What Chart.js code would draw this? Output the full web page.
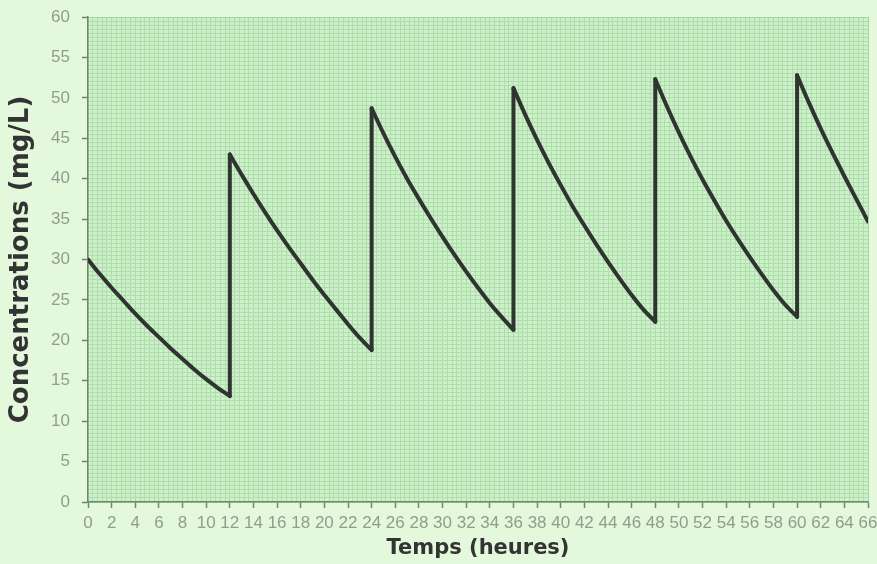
<!DOCTYPE html>
<html>
<head>
<meta charset="utf-8">
<script src="https://cdn.jsdelivr.net/npm/chart.js@4.4.0/dist/chart.umd.min.js"></script>
<style>
  html, body { margin: 0; padding: 0; background: #e4f8dc; }
  #wrap { width: 877px; height: 564px; position: relative; }
</style>
</head>
<body>
<div id="wrap"><canvas id="c" width="877" height="564"></canvas></div>
<script>
// Time (hours) — doses at 0, 12, 24, 36, 48, 60 (repeated time = vertical jump)
const hours = [
  0,1,2,3,4,5,6,7,8,9,10,11,12,
  12,13,14,15,16,17,18,19,20,21,22,23,24,
  24,25,26,27,28,29,30,31,32,33,34,35,36,
  36,37,38,39,40,41,42,43,44,45,46,47,48,
  48,49,50,51,52,53,54,55,56,57,58,59,60,
  60,61,62,63,64,65,66
];
// Concentration (mg/L)
const concentrations = [
  30.0,28.2,26.5,24.9,23.3,21.8,20.4,19.0,17.7,16.4,15.2,14.1,13.1,
  43.0,40.5,38.1,35.8,33.6,31.5,29.5,27.5,25.6,23.8,22.0,20.3,18.8,
  48.7,45.6,42.7,40.0,37.5,35.1,32.8,30.6,28.5,26.5,24.6,22.9,21.3,
  51.2,47.9,44.8,41.9,39.2,36.6,34.2,31.9,29.7,27.6,25.6,23.8,22.3,
  52.3,48.9,45.7,42.7,39.9,37.3,34.8,32.5,30.3,28.2,26.2,24.4,22.9,
  52.8,49.4,46.2,43.2,40.3,37.5,34.7
];
const xTickStep = 2;
const yTickStep = 5;
const xMax = 66;
const yMax = 60;
const xTitle = 'Temps (heures)';
const yTitle = 'Concentrations (mg/L)';

// Split into decay segments (smooth) and dose jumps (straight vertical)
const decaySegments = [];
const jumpSegments = [];
let current = [];
hours.forEach((h, i) => {
  const p = { x: h, y: concentrations[i] };
  if (i > 0 && h === hours[i - 1]) {
    jumpSegments.push([current[current.length - 1], p]);
    decaySegments.push(current);
    current = [];
  }
  current.push(p);
});
decaySegments.push(current);

const lineColor = '#2f3431';
const baseDs = {
  borderColor: lineColor,
  borderWidth: 4,
  pointRadius: 0,
  borderJoinStyle: 'round',
  borderCapStyle: 'round',
  xAxisID: 'x',
  yAxisID: 'y'
};
const datasets = [
  ...decaySegments.map(seg => Object.assign({}, baseDs, { data: seg, cubicInterpolationMode: 'monotone' })),
  ...jumpSegments.map(seg => Object.assign({}, baseDs, { data: seg, tension: 0 }))
];

const bgPlugin = {
  id: 'bg',
  beforeDraw(chart) {
    const { ctx, chartArea: a } = chart;
    ctx.save();
    ctx.fillStyle = '#e4f8dc';
    ctx.fillRect(0, 0, chart.width, chart.height);
    ctx.fillStyle = '#cbf1c9';
    ctx.fillRect(a.left, a.top, a.right - a.left, a.bottom - a.top);
    ctx.restore();
  }
};

const tickColor = '#8e9e8e';
const axisColor = '#6f876f';
const minorGrid = '#b2dcae';

new Chart(document.getElementById('c'), {
  type: 'line',
  data: { datasets },
  options: {
    responsive: false,
    animation: false,
    events: [],
    layout: { padding: 0 },
    plugins: { legend: { display: false }, tooltip: { enabled: false } },
    scales: {
      xMinor: {
        type: 'linear', position: 'top', min: 0, max: xMax * 2.5,
        ticks: { display: false, stepSize: 1 },
        grid: { color: minorGrid, lineWidth: 1, drawTicks: false },
        border: { display: true, color: '#a9d2a6' },
        afterFit(s) { s.height = 17; s.paddingLeft = 0; s.paddingRight = 0; }
      },
      yMinor: {
        type: 'linear', position: 'right', min: 0, max: yMax * 2,
        ticks: { display: false, stepSize: 1 },
        grid: { color: minorGrid, lineWidth: 1, drawTicks: false },
        border: { display: true, color: '#a9d2a6' },
        afterFit(s) { s.width = 9; s.paddingTop = 0; s.paddingBottom = 0; }
      },
      x: {
        type: 'linear', position: 'bottom', min: 0, max: xMax,
        ticks: {
          stepSize: xTickStep, autoSkip: false, maxRotation: 0, padding: 5,
          color: tickColor,
          font: { family: "'Liberation Sans Narrow', 'Liberation Sans', Arial", size: 17 }
        },
        grid: { drawOnChartArea: false, drawTicks: true, tickLength: 6, tickColor: axisColor, tickWidth: 1.5 },
        border: { display: true, color: axisColor, width: 1.5 },
        title: {
          display: true, text: xTitle, color: '#333333',
          font: { family: "'DejaVu Sans', 'Liberation Sans', Arial", size: 21, weight: 'bold' },
          padding: { top: 0, bottom: 3 }
        },
        afterFit(s) { s.height = 62; s.paddingLeft = 0; s.paddingRight = 0; }
      },
      y: {
        type: 'linear', position: 'left', min: 0, max: yMax,
        ticks: {
          stepSize: yTickStep, padding: 12, color: tickColor,
          font: { family: "'Liberation Sans', Arial", size: 17 }
        },
        grid: { drawOnChartArea: false, drawTicks: true, tickLength: 6, tickColor: axisColor, tickWidth: 1.5 },
        border: { display: true, color: axisColor, width: 1.5 },
        title: {
          display: true, text: yTitle, color: '#333333',
          font: { family: "'DejaVu Sans', 'Liberation Sans', Arial", size: 26, weight: 'bold' },
          padding: { top: 6, bottom: 0 }
        },
        afterFit(s) { s.width = 88; s.paddingTop = 0; s.paddingBottom = 0; }
      }
    }
  },
  plugins: [bgPlugin]
});
</script>
</body>
</html>
